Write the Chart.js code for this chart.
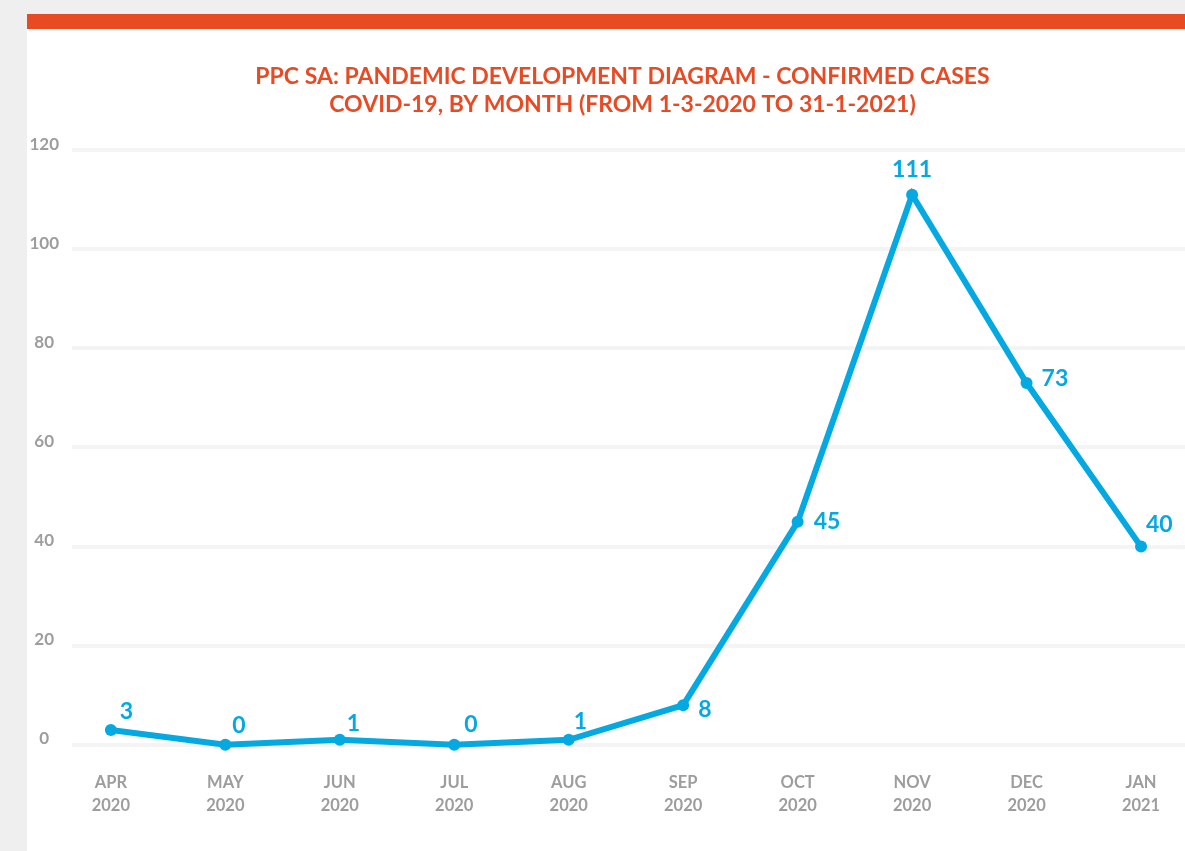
<!DOCTYPE html>
<html>
<head>
<meta charset="utf-8">
<script src="https://cdn.jsdelivr.net/npm/chart.js@4/dist/chart.umd.min.js"></script>
<style>
  html, body { margin: 0; padding: 0; background: #efefef; overflow: hidden; width: 1185px; height: 851px; }
  #bar { position: absolute; left: 27px; top: 14px; width: 1200px; height: 15px; background: #e84a24; }
  #panel { position: absolute; left: 27px; top: 29px; width: 1191px; height: 822px; background: #fff; }
  #chart { display: block; }
</style>
</head>
<body>
<div id="bar"></div>
<div id="panel"><canvas id="chart" width="1191" height="822"></canvas></div>
<script>
// datos
var months = ['APR', 'MAY', 'JUN', 'JUL', 'AUG', 'SEP', 'OCT', 'NOV', 'DEC', 'JAN'];
var years = ['2020', '2020', '2020', '2020', '2020', '2020', '2020', '2020', '2020', '2021'];
var cases = [3, 0, 1, 0, 1, 8, 45, 111, 73, 40];
var yTicks = [0, 20, 40, 60, 80, 100, 120];

var blue = '#05a9e2';
var orange = '#e84a24';
var grey = '#9d9d9d';
var font = 'Lato, "Open Sans", sans-serif';

// posicion de cada etiqueta respecto a su punto
var labelPlacement = [
    { dx: 9, dy: -18, align: 'left' },
    { dx: 7, dy: -19, align: 'left' },
    { dx: 7, dy: -16, align: 'left' },
    { dx: 10, dy: -20, align: 'left' },
    { dx: 5, dy: -18, align: 'left' },
    { dx: 15, dy: 4, align: 'left' },
    { dx: 16, dy: 0, align: 'left' },
    { dx: 0, dy: -25, align: 'center' },
    { dx: 15, dy: -5, align: 'left' },
    { dx: 5, dy: -22, align: 'left' }
];

var points = cases.map(function (v, i) { return { x: i, y: v }; });

var valueLabels = {
    id: 'valueLabels',
    afterDatasetsDraw: function (chart) {
        var ctx = chart.ctx;
        var meta = chart.getDatasetMeta(0);
        ctx.save();
        ctx.fillStyle = blue;
        ctx.font = 'bold 23px ' + font;
        ctx.textBaseline = 'middle';
        meta.data.forEach(function (pt, i) {
            var p = labelPlacement[i];
            ctx.textAlign = p.align;
            ctx.fillText(String(cases[i]), pt.x + p.dx, pt.y + p.dy);
        });
        ctx.restore();
    }
};

var chart = new Chart(document.getElementById('chart'), {
    type: 'line',
    data: {
        datasets: [{
            data: points,
            borderColor: blue,
            backgroundColor: blue,
            borderWidth: 6,
            pointRadius: 6,
            pointHoverRadius: 6,
            pointBorderWidth: 0,
            tension: 0,
            clip: false
        }]
    },
    options: {
        responsive: false,
        animation: false,
        events: [],
        layout: { padding: { top: 0, right: 0, bottom: 8, left: 0 } },
        plugins: {
            legend: { display: false },
            tooltip: { enabled: false },
            title: {
                display: true,
                text: ['PPC SA: PANDEMIC DEVELOPMENT DIAGRAM - CONFIRMED CASES', 'COVID-19, BY MONTH (FROM 1-3-2020 TO 31-1-2021)'],
                color: orange,
                font: { family: font, size: 23, weight: 'bold', lineHeight: 1.2 },
                padding: { top: 34, bottom: 32 }
            }
        },
        scales: {
            x: {
                type: 'linear',
                min: -0.3395,
                max: 9.62,
                afterBuildTicks: function (scale) {
                    scale.ticks = months.map(function (m, i) { return { value: i }; });
                },
                grid: { display: false, drawTicks: false },
                border: { display: false },
                ticks: {
                    autoSkip: false,
                    maxRotation: 0,
                    padding: 26,
                    color: grey,
                    font: { family: font, size: 16.5, weight: 'bold', lineHeight: 1.4 },
                    callback: function (v) { return [months[v], years[v]]; }
                }
            },
            y: {
                min: 0,
                max: 120,
                afterBuildTicks: function (scale) {
                    scale.ticks = yTicks.map(function (t) { return { value: t }; });
                },
                afterFit: function (scale) { scale.width = 45; },
                grid: { color: '#f4f4f4', lineWidth: 4, drawTicks: false },
                border: { display: false },
                ticks: {
                    color: grey,
                    crossAlign: 'center',
                    padding: 13,
                    labelOffset: -6,
                    font: { family: font, size: 17, weight: 'bold' }
                }
            }
        }
    },
    plugins: [valueLabels]
});
</script>
</body>
</html>
